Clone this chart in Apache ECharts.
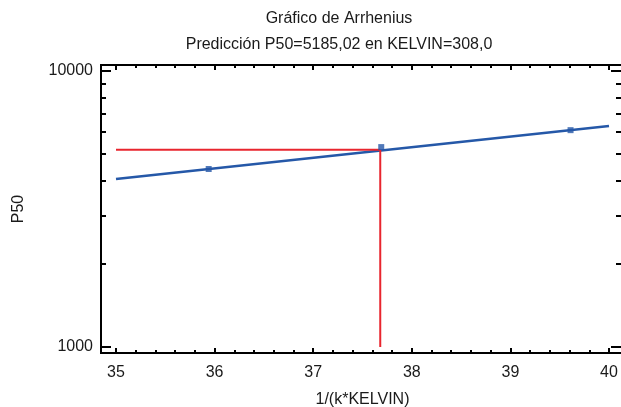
<!DOCTYPE html>
<html>
<head>
<meta charset="utf-8">
<title>Gráfico de Arrhenius</title>
<script src="https://cdn.jsdelivr.net/npm/echarts@6/dist/echarts.min.js"></script>
<style>
  html, body { margin: 0; padding: 0; background: #fff; }
  #chart { width: 621px; height: 407px; }
</style>
</head>
<body>
<div id="chart"></div>
<script>
// recta ajustada (modelo de Arrhenius)
var fitX = [35, 40];
var fitY = [4064, 6318];
// puntos observados
var obsX = [35.94, 37.69, 39.61];
var obsY = [4414, 5300, 6105];
// prediccion
var predX = 37.68;
var predY = 5185.02;
var yBottom = 1000;
// ticks
var xTicks = [35, 36, 37, 38, 39, 40];
var yLabels = [1000, 10000];
var yMinor = [1000, 2000, 3000, 4000, 5000, 6000, 7000, 8000, 9000, 10000];

var font = 'Liberation Sans, Arial, sans-serif';
var txt = '#1a1a1a';

var myChart = echarts.init(document.getElementById('chart'));

function yAx(pos, withLabels, ticks, len) {
  return {
    type: 'log', logBase: 10, min: 1000, max: 10000,
    position: pos, offset: pos == 'left' ? 15 : 12,
    name: withLabels ? 'P50' : '',
    nameLocation: 'middle', nameGap: 74,
    nameTextStyle: { fontFamily: font, fontSize: 16, color: txt },
    axisLine: { show: false },
    axisTick: { show: true, inside: true, length: len, customValues: ticks, lineStyle: { color: '#000', width: 2 } },
    axisLabel: {
      show: withLabels, customValues: yLabels, margin: 8,
      fontFamily: font, fontSize: 16, color: txt,
      formatter: function (v) { return String(Math.round(v)); }
    },
    splitLine: { show: false }
  };
}

function xAx(pos, withLabels) {
  return {
    type: 'value', min: 35, max: 40, interval: 1,
    position: pos, offset: 6,
    name: withLabels ? '1/(k*KELVIN)' : '',
    nameLocation: 'middle', nameGap: 39,
    nameTextStyle: { fontFamily: font, fontSize: 16, color: txt },
    axisLine: { show: false },
    axisTick: { show: true, inside: true, length: 5, lineStyle: { color: '#000', width: 2 } },
    minorTick: { show: true, splitNumber: 5, length: 3, lineStyle: { color: '#000', width: 2 } },
    axisLabel: { show: withLabels, margin: 12, fontFamily: font, fontSize: 16, color: txt },
    splitLine: { show: false },
    minorSplitLine: { show: false }
  };
}

var option = {
  animation: false,
  title: [
    { text: 'Gráfico de Arrhenius', left: 339, top: 11, textAlign: 'center', padding: 0,
      textStyle: { fontFamily: font, fontSize: 16, fontWeight: 'normal', color: txt } },
    { text: 'Predicción P50=5185,02 en KELVIN=308,0', left: 339, top: 37, textAlign: 'center', padding: 0,
      textStyle: { fontFamily: font, fontSize: 16, fontWeight: 'normal', color: txt } }
  ],
  grid: { left: 116, right: 12, top: 71, bottom: 60, outerBoundsMode: 'none', containLabel: false },
  graphic: [{
    type: 'rect', z: 10,
    shape: { x: 101, y: 65, width: 525, height: 288 },
    style: { fill: 'none', stroke: '#000', lineWidth: 2 }
  }],
  xAxis: [xAx('bottom', true), xAx('top', false)],
  yAxis: [
    yAx('left', true, yMinor, 5),
    yAx('right', false, yMinor, 5),
    Object.assign(yAx('left', false, yLabels, 10), { axisLabel: { show: false } }),
    Object.assign(yAx('right', false, yLabels, 10), { axisLabel: { show: false } })
  ],
  series: [
    {
      name: 'pred-h', type: 'line', symbol: 'none', z: 3,
      data: [[fitX[0], predY], [predX, predY]],
      lineStyle: { color: '#e8252e', width: 2 }
    },
    {
      name: 'pred-v', type: 'line', symbol: 'none', z: 3,
      data: [[predX, yBottom], [predX, predY]],
      lineStyle: { color: '#e8252e', width: 2 }
    },
    {
      name: 'ajuste', type: 'line', symbol: 'none', z: 2,
      data: fitX.map(function (x, i) { return [x, fitY[i]]; }),
      lineStyle: { color: '#2558a8', width: 2.5 }
    },
    {
      name: 'obs', type: 'scatter', symbol: 'rect', symbolSize: 6, z: 4,
      data: obsX.map(function (x, i) { return [x, obsY[i]]; }),
      itemStyle: { color: '#2558a8' }
    }
  ]
};
myChart.setOption(option);
</script>
</body>
</html>
